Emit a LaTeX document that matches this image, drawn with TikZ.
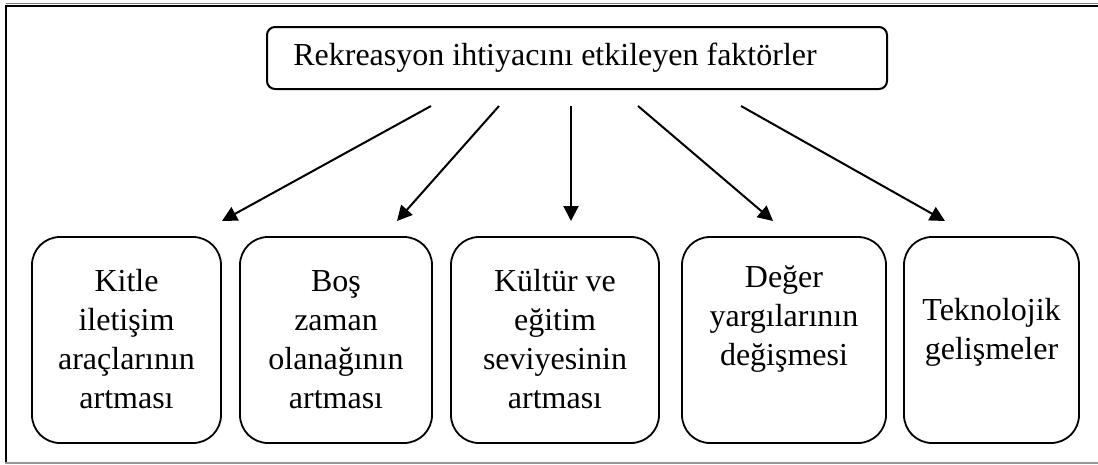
\documentclass[tikz,border=0pt]{standalone}
\usepackage{fontspec}
\setmainfont{Liberation Serif}
\usetikzlibrary{arrows.meta}
\begin{document}
\begin{tikzpicture}[x=1pt,y=-1pt,
  txt/.style={font=\fontsize{32}{39}\selectfont},
  topbox/.style={draw, line width=2pt, rounded corners=8pt, minimum width=620pt, minimum height=62pt, inner sep=0pt, txt},
  factor/.style={draw, line width=1.8pt, rounded corners=28pt, minimum height=206pt, inner sep=0pt},
  ftext/.style={align=center, inner sep=0pt, anchor=north, txt},
  arr/.style={line width=2pt, -{Triangle[length=15pt,width=15pt]}},
  frameline/.style={line width=2.5pt}]
\useasboundingbox (0,0) rectangle (1098,464);
% frame
\draw[gray, line width=1.5pt] (6,3.5) -- (1098,3.5);
\draw[frameline] (1098,6) -- (6,6) -- (6,462);
\draw[gray!80, line width=2pt] (5,462.5) -- (1098,462.5);
% top node
\node[topbox] (top) at (577,58) {\raisebox{-2pt}{Rekreasyon ihtiyacını etkileyen faktörler}\hspace*{44pt}};
% factor boxes
\node[factor, minimum width=189pt] (b1) at (126.5,340) {};
\node[factor, minimum width=192pt] (b2) at (336,340) {};
\node[factor, minimum width=208pt] (b3) at (555,340) {};
\node[factor, minimum width=204pt] (b4) at (784,340) {};
\node[factor, minimum width=175pt] (b5) at (991.5,340) {};
% factor texts
\node[ftext] (t1) at (126.5,263.7) {\strut Kitle\\iletişim\\araçlarının\\artması};
\node[ftext] (t2) at (336,263.7) {\strut Boş\\zaman\\olanağının\\artması};
\node[ftext] (t3) at (555,263.7) {\strut Kültür ve\\eğitim\\seviyesinin\\artması};
\node[ftext] (t4) at (784,259.7) {\strut Değer\\yargılarının\\değişmesi};
\node[ftext] (t5) at (991.5,292.7) {\strut Teknolojik\\gelişmeler};
% arrow ends
\coordinate (s1) at (431,106); \coordinate (e1) at (222,221);
\coordinate (s2) at (499,106); \coordinate (e2) at (397,221);
\coordinate (s3) at (571,106); \coordinate (e3) at (571,221);
\coordinate (s4) at (638,106); \coordinate (e4) at (773,221);
\coordinate (s5) at (741,106); \coordinate (e5) at (945,221);
\draw[arr] (s1) -- (e1);
\draw[arr] (s2) -- (e2);
\draw[arr] (s3) -- (e3);
\draw[arr] (s4) -- (e4);
\draw[arr] (s5) -- (e5);
\end{tikzpicture}
\end{document}
